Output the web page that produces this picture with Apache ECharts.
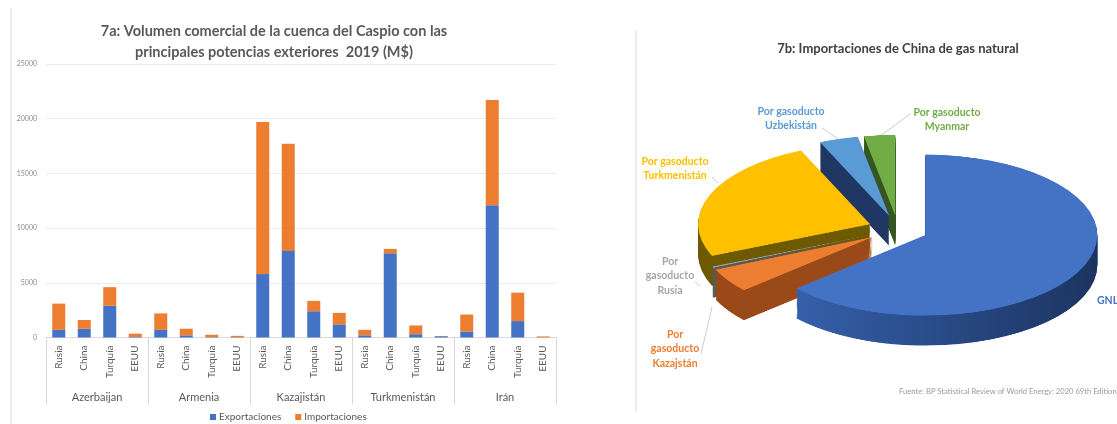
<!DOCTYPE html>
<html><head><meta charset="utf-8">
<script src="https://cdn.jsdelivr.net/npm/echarts@6/dist/echarts.min.js"></script>
<style>
html,body{margin:0;padding:0;background:#fff;overflow:hidden;width:1117px;height:424px}
#main{position:absolute;left:0;top:0;width:1117px;height:424px}
#pie{position:absolute;left:636px;top:0;width:481px;height:906px;transform:scaleY(0.468);transform-origin:0 0}
</style></head><body>
<div id="main"></div><div id="pie"></div>
<script>
// ---------- Data: chart 7a ----------
const countries = ['Azerbaijan', 'Armenia', 'Kazajistán', 'Turkmenistán', 'Irán'];
const partners = ['Rusia', 'China', 'Turquía', 'EEUU'];
const categories = countries.flatMap(() => partners);
const exportaciones = [700, 800, 2900, 50, 700, 200, 30, 30, 5800, 7900, 2400, 1200, 200, 7700, 300, 120, 550, 12100, 1500, 20];
const importaciones = [2400, 800, 1700, 300, 1500, 600, 220, 120, 13900, 9800, 950, 1050, 500, 400, 800, 20, 1550, 9600, 2600, 80];
const seriesNames = ['Exportaciones', 'Importaciones'];

// ---------- Data: chart 7b ----------
const gasNames = ['GNL', 'Por\ngasoducto\nKazajstán', 'Por\ngasoducto\nRusia', 'Por gasoducto\nTurkmenistán', 'Por gasoducto\nUzbekistán', 'Por gasoducto\nMyanmar'];
const gasValues = [84.8, 6.5, 0.3, 33.2, 4.9, 3.9];

const FONT = 'Lato, "Open Sans", sans-serif';
const topColors = ['#4472C4', '#ED7D31', '#A5A5A5', '#FFC000', '#5B9BD5', '#70AD47'];
const sideColors = [
  {type: 'linear', x: 0, y: 0, x2: 1, y2: 0, colorStops: [{offset: 0, color: '#3560AA'}, {offset: 1, color: '#1C3461'}]},
  '#9A4A18', '#5A5A5A', '#6E5A00', '#203864', '#375623'
];
const labelColors = ['#4472C4', '#ED7D31', '#A6A6A6', '#FFC000', '#5B9BD5', '#70AD47'];
const labelPos = [[1097, 300, 'left'], [675, 348, 'center'], [670, 275, 'center'], [675, 168, 'center'], [791, 118, 'center'], [947, 119, 'center']];
const leaders = [null, [[701, 354], [712, 307]], [[695, 282], [700, 286]], [[712, 177], [718, 183]], [[822, 128], [838, 139]], [[910, 114], [879, 137]]];

// ---------- Main chart ----------
const main = echarts.init(document.getElementById('main'), null, {renderer: 'canvas'});
const graphics = [
  {type: 'line', shape: {x1: 11, y1: 8, x2: 11, y2: 424}, style: {stroke: '#dcdcdc', lineWidth: 1}, silent: true},
  {type: 'line', shape: {x1: 636, y1: 30, x2: 636, y2: 412}, style: {stroke: '#dcdcdc', lineWidth: 1}, silent: true},
  {type: 'text', left: 899, top: 388, style: {text: 'Fuente: BP Statistical Review of World Energy: 2020 69th Edition', fill: '#9a9a9a', font: '7.6px ' + FONT}, silent: true}
];
gasNames.forEach((n, i) => {
  const p = labelPos[i];
  const lines = n.split('\n').length;
  graphics.push({type: 'text', x: p[0], y: p[1] - lines * 14 / 2, silent: true,
    style: {text: n, fill: labelColors[i], font: 'bold 10.5px ' + FONT, align: p[2], lineHeight: 14.5, verticalAlign: 'top'}});
  if (leaders[i]) {
    graphics.push({type: 'polyline', shape: {points: leaders[i]}, style: {stroke: '#bfbfbf', lineWidth: 0.8, fill: null}, silent: true});
  }
});

main.setOption({
  backgroundColor: '#fff',
  animation: false,
  textStyle: {fontFamily: FONT},
  title: [
    {text: '7a: Volumen comercial de la cuenca del Caspio con las\nprincipales potencias exteriores  2019 (M$)', left: 269, top: 16, textAlign: 'center',
      textStyle: {fontSize: 14.5, fontWeight: 'bold', color: '#595959', lineHeight: 21, fontFamily: FONT}},
    {text: '7b: Importaciones de China de gas natural', left: 893, top: 37, textAlign: 'center',
      textStyle: {fontSize: 13, fontWeight: 'bold', color: '#404040', fontFamily: FONT}}
  ],
  legend: {data: seriesNames, left: 205, top: 407, icon: 'rect', itemWidth: 6, itemHeight: 6, itemGap: 14,
    textStyle: {fontSize: 10, color: '#595959', fontFamily: FONT, padding: [0, 0, 0, -2]}},
  grid: [
    {left: 46, right: 561, top: 64, bottom: 86.5},
    {left: 46, right: 561, top: 64, bottom: 86.5}
  ],
  xAxis: [
    {type: 'category', gridIndex: 0, data: categories, boundaryGap: true,
      axisLine: {show: true, lineStyle: {color: '#d9d9d9'}}, axisTick: {show: false},
      axisLabel: {rotate: 90, interval: 0, fontSize: 10, color: '#595959', margin: 8, fontFamily: FONT}},
    {type: 'category', gridIndex: 1, data: countries, position: 'bottom', boundaryGap: true,
      axisLine: {show: false}, axisTick: {show: true, interval: 0, length: 67, lineStyle: {color: '#d9d9d9'}},
      axisLabel: {interval: 0, margin: 54, fontSize: 11, color: '#595959', fontFamily: FONT}, splitLine: {show: false}}
  ],
  yAxis: [
    {type: 'value', gridIndex: 0, min: 0, max: 25000, interval: 5000,
      axisLine: {show: false}, axisTick: {show: false},
      axisLabel: {fontSize: 7, color: '#8c8c8c', margin: 9, fontFamily: FONT, formatter: v => String(v)},
      splitLine: {lineStyle: {color: '#ececec'}}},
    {type: 'value', gridIndex: 1, show: false, min: 0, max: 25000}
  ],
  series: [
    {name: seriesNames[0], type: 'bar', stack: 'total', xAxisIndex: 0, yAxisIndex: 0, barWidth: 13, data: exportaciones, itemStyle: {color: '#4472C4'}, silent: true},
    {name: seriesNames[1], type: 'bar', stack: 'total', xAxisIndex: 0, yAxisIndex: 0, barWidth: 13, data: importaciones, itemStyle: {color: '#ED7D31'}, silent: true}
  ],
  graphic: graphics
});

// ---------- Pie chart (squashed vertically to look 3D) ----------
const pie = echarts.init(document.getElementById('pie'), null, {renderer: 'canvas'});
const CX = 262, CY = 490, R = 172, DEPTH = 64, OFFSET = 30;
function pieSeries(cy, colors, z) {
  return {
    type: 'pie', center: [CX, cy], radius: R, startAngle: 90, clockwise: true,
    selectedMode: 'multiple', selectedOffset: OFFSET, silent: true, z: z,
    label: {show: false}, labelLine: {show: false},
    emphasis: {disabled: true}, avoidLabelOverlap: false,
    data: gasValues.map((v, i) => ({name: gasNames[i], value: v, selected: true,
      itemStyle: {color: colors[i], borderWidth: 0}}))
  };
}
const pieList = [];
let zi = 1;
for (let d = DEPTH; d >= 1; d -= 2) pieList.push(pieSeries(CY + d, sideColors, zi++));
pieList.push(pieSeries(CY, topColors, zi++));
pie.setOption({animation: false, backgroundColor: 'transparent', series: pieList});
</script>
</body></html>
